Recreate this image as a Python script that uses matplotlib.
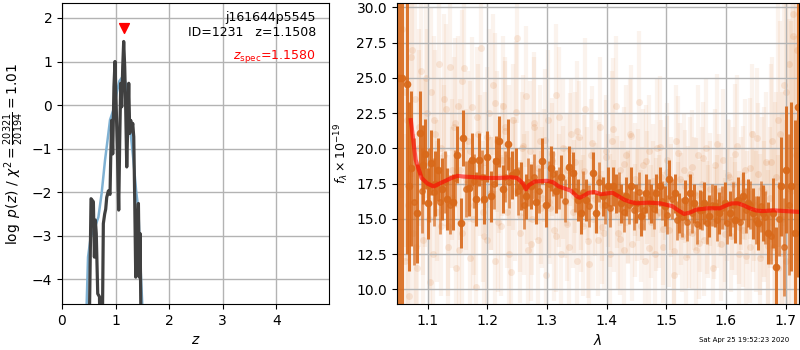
import numpy as np
import matplotlib
matplotlib.use("Agg")
import matplotlib.pyplot as plt

# ---- left panel: redshift probability ----
pz_z = [0.50, 0.542, 0.586, 0.605, 0.623, 0.64, 0.667, 0.70, 0.716, 0.747,
        0.772, 0.797, 0.816, 0.835, 0.866, 0.897, 0.91, 0.928, 0.947, 0.97,
        0.99, 1.009, 1.034, 1.059, 1.078, 1.097, 1.115, 1.134, 1.152, 1.171,
        1.19, 1.209, 1.227, 1.246, 1.265, 1.283, 1.302, 1.321, 1.34, 1.358,
        1.377, 1.402, 1.427, 1.445, 1.458, 1.483]
pz_logp = [-6.0, -2.15, -2.22, -3.49, -2.64, -2.95, -4.33, -4.4, -6.0, -6.0,
           -2.72, -2.5, -2.39, -2.12, -1.97, -2.05, -1.2, -0.35, -1.12, 0.42,
           1.0, 0.11, -1.03, -2.41, -0.8, 0.5, -0.04, 0.88, 1.46, 0.88,
           -0.11, -1.42, -0.5, 0.5, -0.65, -0.35, -0.58, -0.42, -0.73, -2.18,
           -3.95, -2.95, -2.26, -3.95, -2.95, -6.0]

chi_z = [0.46, 0.486, 0.536, 0.617, 0.68, 0.74, 0.804, 0.866, 0.897, 0.96,
         1.02, 1.071, 1.13, 1.175, 1.215, 1.25, 1.283, 1.333, 1.383, 1.427,
         1.458, 1.50]
chi_logp = [-4.6, -3.49, -3.03, -2.8, -2.57, -2.03, -1.26, -0.65, -0.34, -0.11,
            0.27, 0.55, 0.65, 0.56, 0.35, -0.19, -0.65, -1.26, -1.95, -2.41,
            -3.49, -4.6]

z_spec = 1.158
z_marker = 1.76

# ---- right panel: spectrum ----
model_wave = [1.072, 1.08, 1.09, 1.10, 1.11, 1.12, 1.13, 1.14, 1.15, 1.16,
              1.18, 1.20, 1.22, 1.24, 1.25, 1.26, 1.265, 1.27, 1.28, 1.30,
              1.31, 1.32, 1.34, 1.35, 1.355, 1.36, 1.37, 1.38, 1.39, 1.40,
              1.41, 1.42, 1.43, 1.44, 1.45, 1.47, 1.49, 1.50, 1.51, 1.52,
              1.53, 1.54, 1.55, 1.57, 1.59, 1.60, 1.61, 1.62, 1.63, 1.64,
              1.65, 1.66, 1.68, 1.70, 1.72]
model_flux = [22.0, 19.2, 17.9, 17.5, 17.3, 17.5, 17.7, 17.9, 18.05, 18.0,
              17.95, 17.9, 17.9, 17.95, 17.9, 17.5, 17.1, 17.4, 17.65, 17.7,
              17.6, 17.3, 17.0, 16.6, 16.5, 16.6, 16.85, 16.9, 16.75, 16.8,
              16.85, 16.6, 16.35, 16.2, 16.1, 16.15, 16.1, 16.0, 15.9, 15.6,
              15.35, 15.45, 15.65, 15.75, 15.75, 15.95, 16.1, 16.1, 15.95, 15.75,
              15.6, 15.55, 15.6, 15.55, 15.5]

bin_wave = [1.0525, 1.058, 1.0648, 1.069, 1.072, 1.083, 1.087, 1.093, 1.096, 1.100,
            1.106, 1.113, 1.118, 1.125, 1.132, 1.142, 1.150, 1.156, 1.160, 1.169,
            1.174, 1.181, 1.187, 1.195, 1.200, 1.206, 1.215, 1.220, 1.226, 1.234,
            1.241, 1.248, 1.257, 1.265, 1.273, 1.282, 1.291, 1.299, 1.307, 1.315,
            1.324, 1.337, 1.343, 1.352, 1.357, 1.366, 1.377, 1.382, 1.394, 1.402,
            1.410, 1.416, 1.424, 1.433, 1.441, 1.450, 1.458, 1.466, 1.475, 1.483,
            1.489, 1.497, 1.505, 1.514, 1.522, 1.531, 1.539, 1.547, 1.556, 1.564,
            1.572, 1.581, 1.589, 1.598, 1.606, 1.615, 1.620, 1.628, 1.637, 1.645,
            1.654, 1.662, 1.670, 1.679, 1.684, 1.693, 1.701, 1.709, 1.715, 1.720]
bin_flux = [25.0, 25.0, 24.54, 17.3, 18.6, 15.4, 21.1, 18.85, 19.6, 16.1,
            18.97, 17.5, 18.5, 17.1, 16.4, 16.2, 19.56, 14.7, 20.75, 17.2,
            19.2, 16.4, 19.2, 16.4, 19.4, 16.6, 19.1, 20.5, 17.1, 20.3,
            18.1, 18.3, 17.3, 16.6, 17.3, 16.2, 19.1, 16.0, 18.6, 16.95,
            18.0, 18.7, 18.25, 16.35, 15.4, 16.35, 18.25, 15.4, 16.6, 17.3,
            17.3, 16.8, 16.1, 16.6, 17.3, 16.1, 15.2, 16.8, 16.1, 16.8,
            17.3, 15.9, 17.8, 16.8, 15.4, 16.35, 16.8, 16.1, 15.65, 16.1,
            15.2, 15.9, 15.4, 16.1, 15.4, 14.9, 16.35, 16.6, 16.1, 15.4,
            14.7, 15.4, 14.0, 15.4, 11.6, 17.3, 18.5, 17.3, 14.0, 22.9]
bin_err = [30, 30, 12, 6, 5.5, 3.5, 3.0, 2.8, 2.5, 2.5,
           2.3, 2.3, 2.2, 2.2, 2.2, 2.0, 2.0, 1.8, 2.0, 2.0,
           1.9, 1.9, 1.9, 1.8, 1.8, 1.8, 1.8, 1.8, 1.7, 1.8,
           1.7, 1.7, 1.7, 1.6, 1.6, 1.6, 1.6, 1.6, 1.6, 1.5,
           1.5, 1.5, 1.5, 1.5, 1.5, 1.5, 1.5, 1.4, 1.4, 1.4,
           1.4, 1.4, 1.4, 1.4, 1.4, 1.4, 1.4, 1.4, 1.4, 1.4,
           1.4, 1.4, 1.4, 1.4, 1.4, 1.4, 1.4, 1.4, 1.4, 1.5,
           1.5, 1.5, 1.5, 1.5, 1.6, 1.6, 1.6, 1.7, 1.7, 1.8,
           1.9, 2.0, 2.2, 2.5, 2.8, 3.5, 4.5, 6.0, 8.0, 12.0]

# second set of binned points (other orientation)
bin2_wave = [1.077, 1.091, 1.103, 1.110, 1.121, 1.129, 1.137, 1.146, 1.164, 1.178,
             1.191, 1.211, 1.230, 1.237, 1.252, 1.261, 1.269, 1.278, 1.287, 1.303,
             1.311, 1.320, 1.330, 1.347, 1.361, 1.371, 1.388, 1.398, 1.406, 1.420,
             1.429, 1.437, 1.446, 1.454, 1.462, 1.471, 1.479, 1.493, 1.501, 1.510,
             1.518, 1.527, 1.535, 1.543, 1.552, 1.560, 1.568, 1.577, 1.585, 1.594,
             1.602, 1.611, 1.624, 1.633, 1.641, 1.650, 1.658, 1.666, 1.675, 1.689,
             1.697, 1.705]
bin2_flux = [16.2, 17.0, 17.4, 16.9, 16.2, 17.6, 16.0, 17.9, 17.1, 17.7,
             18.0, 17.5, 18.0, 17.6, 17.0, 16.0, 17.6, 18.0, 17.0, 17.5,
             18.2, 17.2, 16.3, 17.0, 16.9, 15.9, 17.6, 16.0, 15.8, 16.9,
             15.5, 16.0, 15.6, 16.9, 15.6, 16.4, 15.7, 16.3, 15.3, 16.4,
             14.9, 15.1, 14.8, 15.4, 14.6, 15.6, 14.7, 16.0, 14.9, 15.8,
             14.7, 16.0, 14.8, 15.6, 16.0, 14.9, 15.9, 15.1, 13.8, 15.0,
             13.0, 16.0]
bin2_err = [4.5, 3.0, 2.6, 2.4, 2.3, 2.2, 2.1, 2.0, 2.0, 1.9,
            1.9, 1.8, 1.8, 1.8, 1.7, 1.7, 1.7, 1.6, 1.6, 1.6,
            1.6, 1.5, 1.5, 1.5, 1.5, 1.5, 1.4, 1.4, 1.4, 1.4,
            1.4, 1.4, 1.4, 1.4, 1.4, 1.4, 1.4, 1.4, 1.4, 1.4,
            1.4, 1.4, 1.4, 1.4, 1.4, 1.4, 1.5, 1.5, 1.5, 1.5,
            1.5, 1.6, 1.6, 1.6, 1.7, 1.7, 1.8, 1.9, 2.0, 2.6,
            3.5, 5.0]

faint_flux = [28.5, 12.0, 22.0, 9.5, 26.5, 14.0, 23.5, 11.5, 20.0, 25.5,
              13.5, 19.0, 22.5, 15.0, 24.0, 12.5, 21.0, 17.0, 26.0, 14.5,
              19.5, 22.8, 13.0, 25.8, 16.5, 21.5, 11.5, 23.0, 18.5, 14.0,
              25.7, 17.5, 20.5, 12.2, 22.9, 16.0, 10.2, 21.0, 27.1, 15.5,
              19.0, 13.5, 22.5, 16.8, 24.5, 12.0, 20.5, 18.0, 14.5, 23.0,
              21.5, 15.5, 19.5, 11.2, 22.0, 17.0, 27.8, 14.0, 20.0, 16.0,
              23.7, 12.8, 19.8, 15.0, 21.5, 17.5, 13.5, 20.5, 16.5, 18.8,
              11.0, 22.0, 15.8, 19.2, 14.2, 23.8, 17.0, 12.5, 20.0, 16.2,
              18.5, 13.0, 21.0, 15.5, 19.0, 12.0, 20.8, 16.8, 14.5, 22.8,
              17.5, 11.8, 19.5, 15.0, 18.0, 13.5, 21.5, 16.0, 14.0, 19.8,
              17.0, 12.5, 20.5, 15.2, 23.0, 14.0, 18.5, 16.5, 12.8, 19.5,
              15.8, 21.0, 13.2, 17.8, 16.0, 23.3, 14.5, 18.8, 12.0, 17.2,
              19.8, 14.8, 16.5, 12.5, 20.0, 15.5, 18.0, 13.0, 17.5, 19.2,
              14.2, 16.8, 11.0, 20.5, 15.0, 17.8, 13.8, 18.5, 12.3, 16.2,
              18.2, 14.0, 16.8, 12.8, 19.5, 15.2, 17.5, 13.5, 20.0, 14.8,
              16.5, 11.5, 18.8, 15.5, 17.0, 13.2, 19.2, 14.5, 16.0, 18.0,
              13.8, 17.5, 15.0, 20.2, 12.5, 16.8, 14.2, 18.5, 15.8, 13.0,
              21.0, 16.0, 14.8, 18.2, 12.2, 17.2, 15.5, 19.0, 13.5, 16.5,
              20.5, 13.0, 18.0, 11.5, 21.0, 15.0, 24.5, 12.0, 26.0, 17.0,
              29.5, 14.0, 27.0, 22.0]
faint_err = [12, 9, 10, 8, 9, 7, 8, 6, 7, 7, 6, 6, 6, 5, 6, 5, 6, 5, 6, 5,
             5, 6, 5, 6, 5, 5, 6, 5, 5, 6, 5, 5, 5, 6, 5, 5, 6, 5, 6, 5,
             5, 5, 6, 4, 5, 5, 5, 4, 5, 5, 5, 4, 5, 5, 4, 5, 6, 5, 4, 5,
             5, 4, 5, 4, 5, 4, 5, 4, 5, 4, 5, 5, 4, 4, 5, 5, 4, 4, 5, 4,
             4, 5, 4, 4, 5, 4, 4, 4, 5, 5, 4, 4, 4, 5, 4, 4, 5, 4, 4, 4,
             4, 4, 5, 4, 5, 4, 4, 4, 4, 5, 4, 4, 4, 4, 4, 5, 4, 4, 4, 4,
             4, 4, 4, 4, 5, 4, 4, 4, 4, 4, 4, 4, 5, 4, 4, 4, 4, 4, 4, 4,
             4, 4, 4, 4, 5, 4, 4, 4, 5, 4, 4, 5, 4, 4, 4, 4, 5, 4, 4, 4,
             4, 4, 4, 5, 4, 4, 4, 5, 4, 4, 5, 4, 5, 5, 5, 5, 5, 5, 5, 5,
             6, 7, 6, 8, 8, 9, 10, 10, 12, 12, 14, 14, 15, 16]
faint_wave = np.linspace(1.058, 1.722, len(faint_flux))

faint2_flux = [24.0, 16.0, 27.0, 13.0, 21.5, 18.0, 25.0, 10.5, 22.0, 15.5,
               20.0, 23.5, 14.5, 18.5, 21.8, 12.8, 24.8, 17.8, 19.8, 15.0,
               22.2, 18.8, 13.8, 20.8, 16.8, 23.2, 14.8, 19.2, 21.2, 12.5,
               18.2, 22.6, 15.2, 20.2, 17.2, 13.2, 21.8, 18.6, 15.8, 20.6,
               16.2, 19.6, 13.8, 22.2, 17.6, 14.6, 19.9, 16.6, 21.2, 15.2,
               18.4, 13.4, 20.4, 16.4, 17.9, 14.4, 19.4, 15.6, 21.4, 16.9,
               13.6, 18.9, 15.9, 20.9, 14.9, 17.4, 16.1, 19.1, 12.9, 17.7,
               15.3, 20.1, 14.3, 18.3, 16.3, 12.7, 19.7, 15.7, 17.3, 14.1,
               18.7, 16.7, 13.3, 19.3, 15.1, 17.1, 14.7, 20.3, 16.4, 13.9,
               18.1, 15.4, 19.6, 14.4, 17.6, 12.4, 18.6, 16.2, 20.7, 14.6,
               16.9, 13.1, 19.0, 15.3, 22.0, 12.6, 24.0, 17.2, 28.0, 19.5]
faint2_err = [11, 9, 9, 8, 7, 7, 6, 6, 6, 5,
              5, 6, 5, 5, 6, 5, 5, 5, 5, 5,
              5, 5, 5, 5, 4, 5, 5, 4, 5, 5,
              4, 5, 4, 5, 4, 4, 5, 4, 4, 5,
              4, 4, 4, 5, 4, 4, 4, 4, 5, 4,
              4, 4, 4, 4, 4, 4, 4, 4, 5, 4,
              4, 4, 4, 5, 4, 4, 4, 4, 4, 4,
              4, 5, 4, 4, 4, 4, 4, 4, 4, 4,
              4, 4, 4, 4, 4, 4, 4, 5, 4, 4,
              4, 4, 5, 4, 4, 4, 5, 5, 5, 5,
              6, 6, 7, 8, 9, 10, 11, 12, 14, 15]
faint2_wave = np.linspace(1.062, 1.718, len(faint2_flux))

orange = '#d8691a'

fig = plt.figure(figsize=(8, 3.5), dpi=100)
ax1 = fig.add_axes([0.0775, 0.131, 0.334, 0.86])
ax2 = fig.add_axes([0.496, 0.131, 0.5025, 0.86])

ax1.plot(chi_z, chi_logp, color='#7fb1d3', lw=1.8, zorder=2)
ax1.plot(pz_z, pz_logp, color='0.25', lw=2.3, zorder=3)
ax1.scatter([z_spec], [z_marker], marker='v', color='red', s=50, zorder=4)
ax1.set_xlim(0, 4.99)
ax1.set_ylim(-4.57, 2.34)
ax1.set_xticks([0, 1, 2, 3, 4])
ax1.grid(color='0.7', lw=1)
ax1.set_axisbelow(True)
ax1.set_xlabel('$z$')
ax1.set_ylabel(r'$\log\ p(z)$ / $\chi^2=\frac{20321}{20194}=1.01$')
ax1.text(0.95, 0.975, 'j161644p5545\nID=1231   z=1.1508', transform=ax1.transAxes,
         ha='right', va='top', fontsize=9)
ax1.text(0.95, 0.85, r'$z_\mathrm{spec}$=1.1580', transform=ax1.transAxes,
         ha='right', va='top', fontsize=9, color='red')

for w, f, e in [(faint_wave, faint_flux, faint_err), (faint2_wave, faint2_flux, faint2_err)]:
    ax2.errorbar(w, f, yerr=e, fmt='none', ecolor=orange, alpha=0.08,
                 elinewidth=3, zorder=1)
    ax2.plot(w, f, 'o', ms=5, color=orange, alpha=0.13, mec='none', zorder=1)
ax2.errorbar(bin2_wave, bin2_flux, yerr=bin2_err, fmt='o', ms=4, color=orange,
             alpha=0.7, elinewidth=2, lw=0, zorder=2)
ax2.errorbar(bin_wave, bin_flux, yerr=bin_err, fmt='o', ms=4.5, color=orange,
             alpha=0.9, elinewidth=2.2, lw=0, zorder=2)
ax2.plot(model_wave, model_flux, color='red', lw=3, alpha=0.6, zorder=3)
ax2.set_xlim(1.0485, 1.722)
ax2.set_ylim(8.95, 30.3)
ax2.set_xticks([1.1, 1.2, 1.3, 1.4, 1.5, 1.6, 1.7])
ax2.set_yticks([10, 12.5, 15, 17.5, 20, 22.5, 25, 27.5, 30])
ax2.grid(color='0.7', lw=1)
ax2.set_xlabel(r'$\lambda$')
ax2.set_ylabel(r'$f_\lambda\times10^{-19}$', fontsize=9)

fig.text(0.93, 0.02, 'Sat Apr 25 19:52:23 2020', ha='center', va='bottom', fontsize=5)

fig.savefig('out.png', dpi=100)
